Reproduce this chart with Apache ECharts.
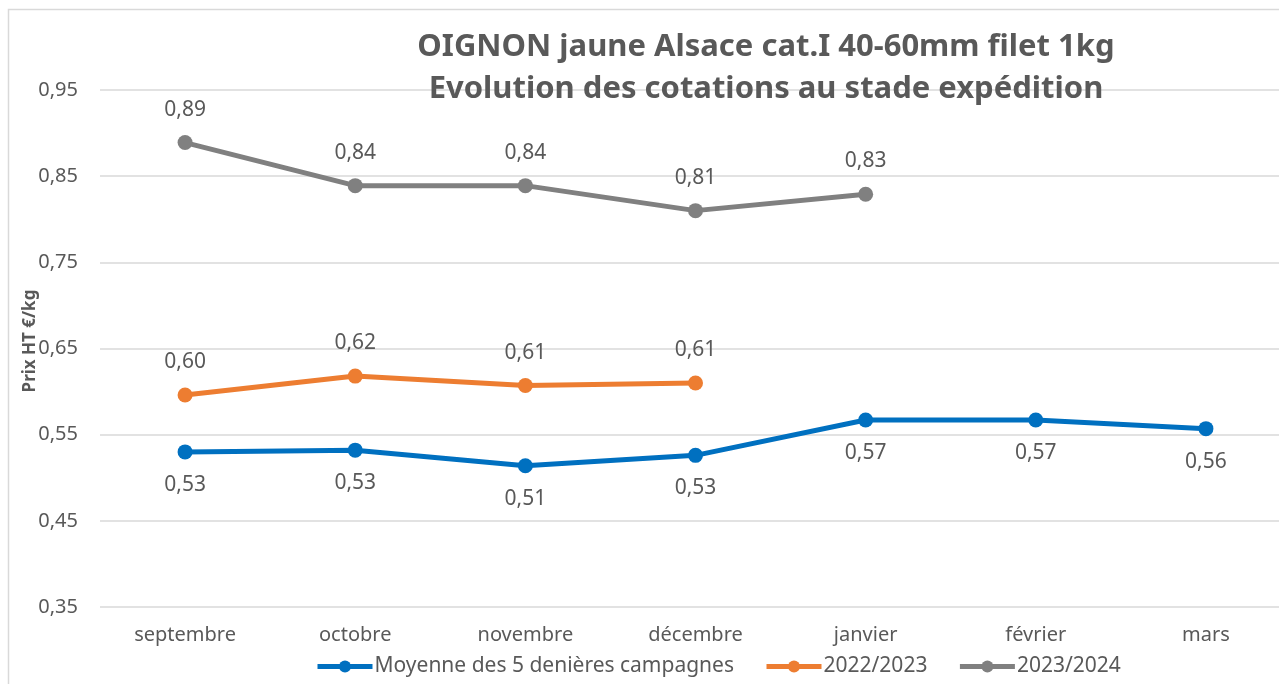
<!DOCTYPE html>
<html><head><meta charset="utf-8">
<script src="https://cdn.jsdelivr.net/npm/echarts@6/dist/echarts.min.js"></script>
<style>html,body{margin:0;padding:0;background:#fff;overflow:hidden}#c{width:1300px;height:684px}</style>
</head><body><div id="c"></div>
<script>
const categories = ['septembre','octobre','novembre','décembre','janvier','février','mars'];
const moyenne = [0.530, 0.532, 0.514, 0.526, 0.567, 0.567, 0.557];
const s2022 = [0.596, 0.618, 0.607, 0.610];
const s2023 = [0.889, 0.839, 0.839, 0.810, 0.829];
const seriesNames = ['Moyenne des 5 denières campagnes','2022/2023','2023/2024'];
const titleLines = ['OIGNON jaune Alsace cat.I 40-60mm filet 1kg','Evolution des cotations au stade expédition'];
const yAxisName = 'Prix HT €/kg';

const FONT = '"Noto Sans", sans-serif';
const TXT = '#595959';
const fmt = v => v.toFixed(2).replace('.', ',');
const colors = ['#0070C0','#ED7D31','#808080'];

function mk(name, data, color, pos) {
  return {
    name, type: 'line', data, color,
    symbol: 'circle', symbolSize: 15,
    lineStyle: {width: 5, color},
    itemStyle: {color},
    label: {show: true, position: pos, distance: 15, formatter: p => fmt(p.value),
      color: TXT, fontFamily: FONT, fontSize: 21},
    emphasis: {disabled: true}, animation: false
  };
}

const chart = echarts.init(document.getElementById('c'));
chart.setOption({
  animation: false,
  title: {text: titleLines.join('\n'), left: 761, textAlign: 'center', top: 21,
    textStyle: {fontFamily: FONT, fontWeight: 'bold', fontSize: 31, color: TXT, lineHeight: 42}},
  graphic: [
    {type: 'rect', shape: {x: 8.5, y: 9.5, width: 1320, height: 700},
      style: {fill: 'none', stroke: '#d9d9d9', lineWidth: 1.5}, silent: true, z: -1},
    {type: 'text', x: 30, y: 341, rotation: Math.PI / 2, silent: true,
      style: {text: yAxisName, fill: TXT, font: 'bold 17px "Noto Sans", sans-serif',
        textAlign: 'center', textVerticalAlign: 'middle'}}
  ],
  grid: {left: 100, top: 90, width: 1191, bottom: 77},
  legend: {bottom: 2, left: 310, itemWidth: 55, itemHeight: 15, itemGap: 30,
    lineStyle: {width: 5},
    textStyle: {fontFamily: FONT, fontSize: 21, color: TXT, padding: [0,0,0,-3]},
    data: seriesNames},
  xAxis: {type: 'category', data: categories, boundaryGap: true,
    axisLine: {show: false}, axisTick: {show: false},
    axisLabel: {color: TXT, fontFamily: FONT, fontSize: 20, margin: 18}},
  yAxis: {type: 'value', min: 0.35, max: 0.95, interval: 0.1,
    axisLine: {show: false}, axisTick: {show: false},
    axisLabel: {color: TXT, fontFamily: FONT, fontSize: 20, margin: 22, formatter: v => fmt(v)},
    splitLine: {lineStyle: {color: '#d9d9d9', width: 1.5}}},
  series: [
    mk(seriesNames[0], moyenne, colors[0], 'bottom'),
    mk(seriesNames[1], s2022, colors[1], 'top'),
    mk(seriesNames[2], s2023, colors[2], 'top')
  ]
});
</script></body></html>
